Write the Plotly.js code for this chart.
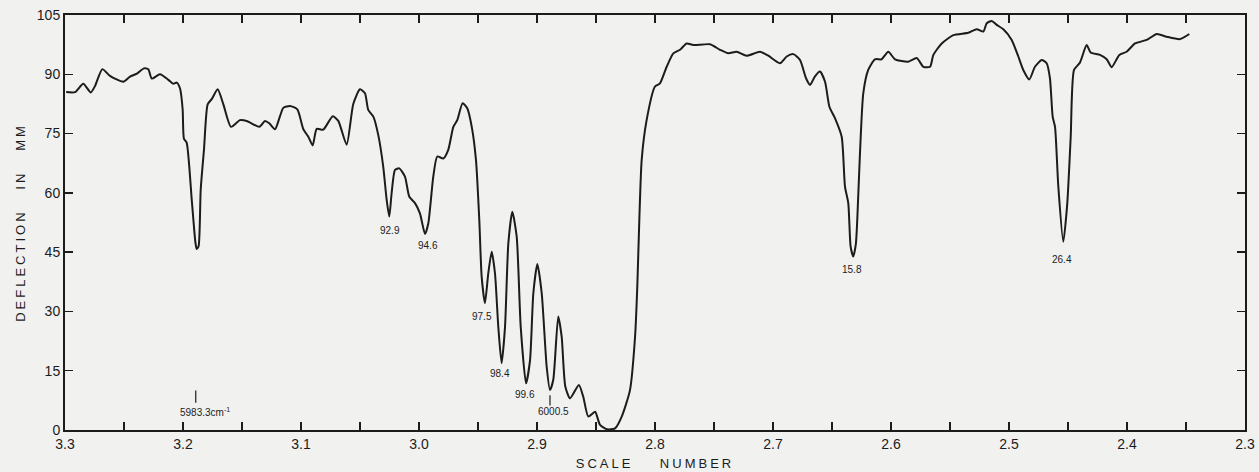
<!DOCTYPE html>
<html>
<head>
<meta charset="utf-8">
<script src="https://cdn.plot.ly/plotly-3.0.1.min.js"></script>
<style>
  html, body { margin: 0; padding: 0; background: #f1f1f0; }
  #chart { width: 1259px; height: 472px; }
  .ytitle, .xtitle { letter-spacing: 3px; }
</style>
</head>
<body>
<div id="chart"></div>
<script>
// Scale number (x) and deflection in mm (y)
const scaleNumber = [
  3.299, 3.2915, 3.2845, 3.2782, 3.2746, 3.2684, 3.2619, 3.2506, 3.2449, 3.2387,
  3.2331, 3.2294, 3.2265, 3.2195, 3.2124, 3.2082, 3.2053, 3.2025, 3.2003, 3.1992,
  3.1969, 3.1926, 3.1895, 3.1884, 3.1868, 3.185, 3.1822, 3.1791, 3.1757, 3.1706,
  3.1658, 3.1593, 3.1517, 3.146, 3.1353, 3.1305, 3.1269, 3.122, 3.1178, 3.115,
  3.1093, 3.1031, 3.098, 3.0938, 3.0901, 3.0867, 3.0811, 3.0731, 3.0684, 3.0613,
  3.0557, 3.05, 3.0458, 3.043, 3.0387, 3.0345, 3.0303, 3.0274, 3.0252, 3.0232,
  3.0203, 3.0167, 3.0119, 3.0082, 3.0034, 2.9992, 2.9949, 2.9921, 2.9879, 2.9845,
  2.9794, 2.9752, 2.9709, 2.9676, 2.963, 2.9591, 2.9553, 2.9517, 2.9489, 2.9469,
  2.9441, 2.9413, 2.9384, 2.9356, 2.9328, 2.93, 2.9271, 2.9243, 2.9209, 2.9172,
  2.9138, 2.9093, 2.9059, 2.9031, 2.8997, 2.896, 2.8918, 2.889, 2.8862, 2.882,
  2.8791, 2.876, 2.872, 2.8645, 2.8608, 2.8565, 2.8508, 2.8466, 2.8409, 2.8339,
  2.8282, 2.8212, 2.8169, 2.815, 2.8133, 2.8113, 2.8071, 2.8, 2.7958, 2.7901,
  2.7845, 2.7788, 2.7732, 2.7675, 2.7534, 2.7449, 2.7379, 2.7308, 2.7223, 2.711,
  2.704, 2.6941, 2.6884, 2.6828, 2.6771, 2.672, 2.6686, 2.6644, 2.6602, 2.6559,
  2.6522, 2.6475, 2.6418, 2.639, 2.6362, 2.6342, 2.632, 2.6298, 2.6286, 2.6263,
  2.6235, 2.6193, 2.6136, 2.608, 2.6023, 2.5966, 2.5854, 2.5782, 2.5726, 2.5669,
  2.5641, 2.557, 2.5472, 2.5345, 2.5274, 2.5218, 2.5189, 2.5147, 2.5104, 2.5048,
  2.4977, 2.4921, 2.4879, 2.4828, 2.478, 2.4723, 2.4681, 2.4653, 2.463, 2.461,
  2.4582, 2.454, 2.4506, 2.4477, 2.4449, 2.4398, 2.4342, 2.4308, 2.4229, 2.4172,
  2.413, 2.4065, 2.4003, 2.3932, 2.3833, 2.3748, 2.3664, 2.3551, 2.3472
];
const deflection = [
  85.5, 85.5, 87.6, 85.4, 87.0, 91.3, 89.6, 88.1, 89.4, 90.25,
  91.5, 91.3, 88.9, 90.0, 88.6, 87.6, 87.9, 86.4, 81.1, 73.7,
  72.7, 58.3, 47.5, 45.8, 46.5, 60.8, 71.0, 82.4, 83.7, 86.2,
  82.4, 76.7, 78.4, 78.2, 76.7, 78.2, 77.6, 76.1, 79.4, 81.5,
  82.0, 81.1, 76.1, 74.2, 72.0, 76.2, 76.0, 79.4, 78.2, 72.2,
  82.5, 86.2, 85.2, 81.0, 79.3, 74.6, 66.6, 58.2, 54.0, 59.9,
  65.8, 66.2, 64.1, 59.0, 57.4, 54.8, 49.6, 52.3, 64.1, 69.2,
  68.7, 70.9, 76.7, 78.4, 82.7, 81.4, 76.7, 68.3, 53.1, 38.8,
  32.1, 39.6, 45.1, 39.6, 26.1, 16.9, 26.1, 47.2, 55.2, 48.9,
  26.1, 11.8, 17.7, 34.6, 42.0, 34.6, 16.0, 10.1, 12.7, 28.7,
  23.6, 11.0, 8.0, 11.4, 8.4, 3.4, 4.6, 1.3, 0.2, 0.4,
  3.4, 10.1, 23.6, 36.3, 53.1, 68.3, 78.4, 86.9, 87.7, 91.9,
  95.3, 96.2, 97.8, 97.4, 97.6, 96.2, 95.3, 95.7, 94.7, 95.7,
  94.7, 92.8, 94.5, 95.1, 93.6, 89.0, 87.3, 89.5, 90.7, 88.1,
  81.8, 78.9, 74.2, 61.6, 57.4, 46.4, 43.9, 47.0, 53.1, 70.0,
  85.2, 91.1, 93.8, 93.8, 95.7, 93.8, 93.2, 94.1, 91.9, 91.9,
  94.9, 97.8, 99.9, 100.5, 101.4, 100.8, 102.9, 103.5, 102.5, 101.4,
  98.7, 94.5, 91.1, 88.7, 91.9, 93.6, 92.8, 89.0, 79.3, 76.7,
  61.6, 47.6, 57.4, 74.2, 91.1, 93.0, 97.4, 95.5, 94.9, 93.8,
  91.8, 94.9, 95.7, 97.8, 98.7, 100.2, 99.5, 98.9, 100.2
];

// Axis ticks
const xTickStep = 0.1;
const xMinorStep = 0.05;
const yTickVals = [0, 15, 30, 45, 60, 75, 90, 105];

// Peak labels
const labelText = ["92.9", "94.6", "97.5", "98.4", "99.6", "6000.5", "5983.3cm<sup>-1</sup>", "15.8", "26.4"];
const labelX = [3.0246, 2.992, 2.947, 2.9314, 2.9102, 2.8862, 3.1814, 2.633, 2.4548];
const labelY = [50.6, 46.8, 28.7, 14.3, 9.0, 4.6, 4.6, 40.5, 43.2];

// Short vertical strokes marking the reference frequencies
const strokeX = [2.889, 3.1892];
const strokeY0 = [6.2, 6.9];
const strokeY1 = [8.8, 10.0];

const ink = "#1c1c1c";
const fontFam = "Liberation Sans, Arial, sans-serif";

const trace = {
  x: scaleNumber,
  y: deflection,
  type: "scatter",
  mode: "lines",
  line: { color: ink, width: 2, shape: "spline", smoothing: 0.6 },
  hoverinfo: "skip"
};

const annotations = labelText.map((t, i) => ({
  x: labelX[i], y: labelY[i], xref: "x", yref: "y",
  text: t, showarrow: false,
  font: { family: fontFam, size: 10, color: ink },
  xanchor: "center", yanchor: "middle"
}));

const shapes = strokeX.map((sx, i) => ({
  type: "line", xref: "x", yref: "y",
  x0: sx, x1: sx, y0: strokeY0[i], y1: strokeY1[i],
  line: { color: ink, width: 1.2 }
}));

const layout = {
  width: 1259, height: 472,
  paper_bgcolor: "#f1f1f0",
  plot_bgcolor: "#f1f1f0",
  margin: { l: 65, r: 14, t: 15, b: 42 },
  showlegend: false,
  font: { family: fontFam, color: ink },
  xaxis: {
    range: [3.3, 2.3],
    tick0: 2.3, dtick: xTickStep, tickformat: ".1f",
    ticks: "inside", ticklen: 8, tickwidth: 1.5, tickcolor: ink,
    minor: { dtick: xMinorStep, tick0: 2.3, ticks: "inside", ticklen: 8, tickwidth: 1.5, tickcolor: ink, showgrid: false },
    showline: true, linewidth: 2, linecolor: ink, mirror: "ticks",
    showgrid: false, zeroline: false,
    tickfont: { size: 14, color: ink },
    title: { text: "SCALE    NUMBER", font: { size: 13, color: ink }, standoff: 8 }
  },
  yaxis: {
    range: [0, 105],
    tickvals: yTickVals,
    ticks: "inside", ticklen: 8, tickwidth: 1.5, tickcolor: ink,
    showline: true, linewidth: 2, linecolor: ink, mirror: "ticks",
    showgrid: false, zeroline: false,
    tickfont: { size: 14, color: ink },
    title: { text: "DEFLECTION   IN   MM", font: { size: 13, color: ink }, standoff: 8 }
  },
  annotations: annotations,
  shapes: shapes
};

Plotly.newPlot("chart", [trace], layout, { displayModeBar: false, staticPlot: true });
</script>
</body>
</html>
